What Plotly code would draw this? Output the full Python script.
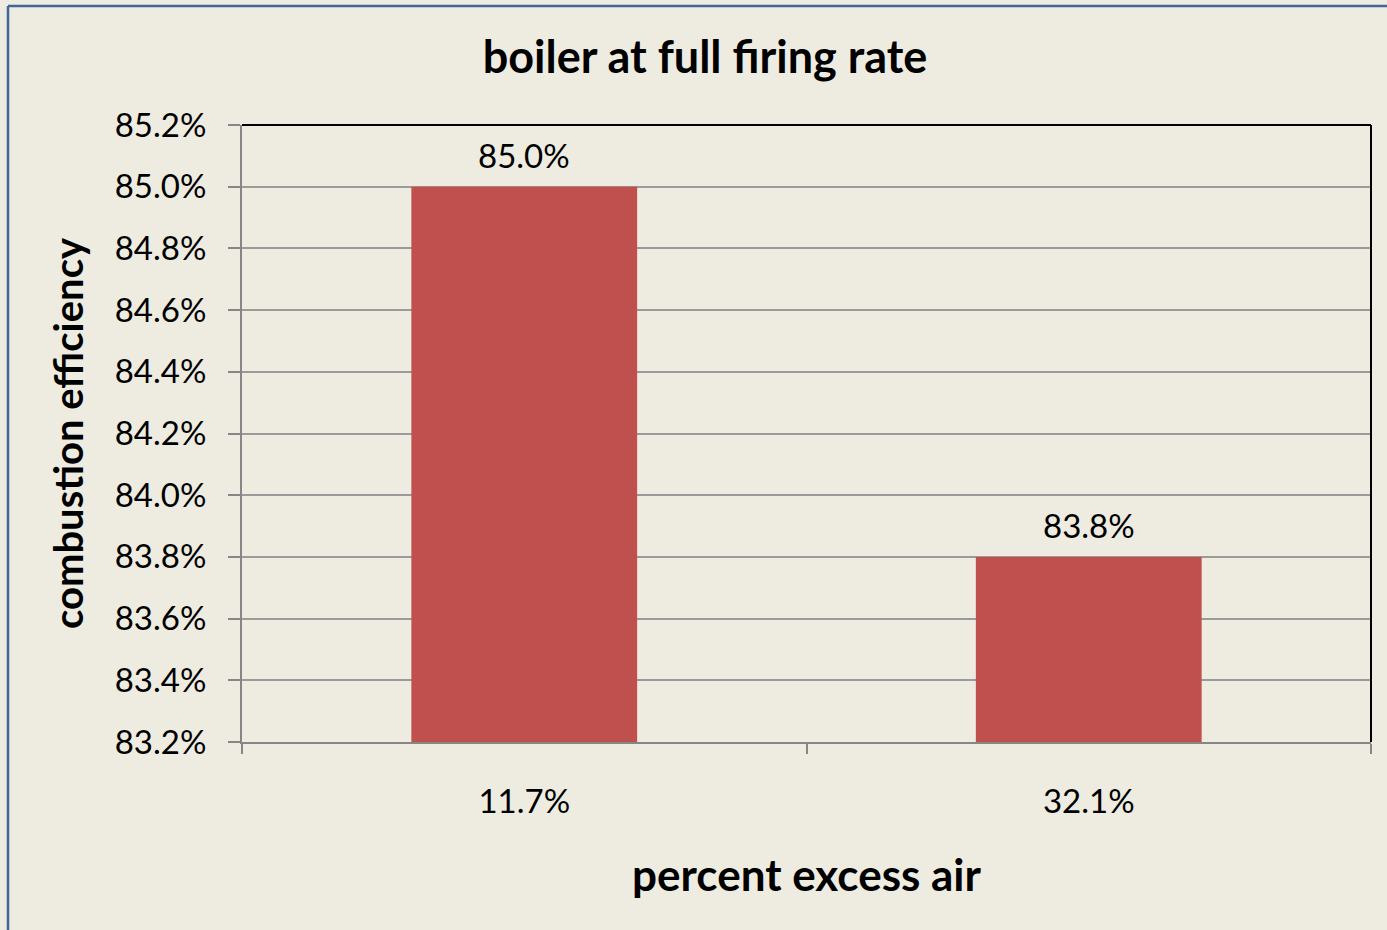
import plotly.graph_objects as go

categories = ["11.7%", "32.1%"]
efficiency = [0.850, 0.838]
y_ticks = [0.832, 0.834, 0.836, 0.838, 0.840, 0.842, 0.844, 0.846, 0.848, 0.850, 0.852]

W, H = 1387, 930
L, R, T, B = 242, 16, 125, 188
pw, ph = W - L - R, H - T - B

def px_x(p):
    return (p - L) / pw

def px_y(p):
    return (H - B - p) / ph

FONT = "Lato"
BG = "#EEECE1"

fig = go.Figure()
fig.add_trace(go.Bar(
    x=categories, y=efficiency,
    marker=dict(color="#C0504D", line=dict(width=0)),
    width=0.4,
    cliponaxis=False,
))

for c, v in zip(categories, efficiency):
    fig.add_annotation(x=c, y=v, xref="x", yref="y", text=f"{v*100:.1f}%",
                       showarrow=False, yanchor="middle", yshift=32,
                       font=dict(family=FONT, size=33, color="#000000"))

fig.update_layout(
    width=W, height=H,
    margin=dict(l=L, r=R, t=T, b=B, pad=0),
    paper_bgcolor=BG, plot_bgcolor=BG,
    showlegend=False,
    font=dict(family=FONT, color="#000000"),
    title=dict(text="<b>boiler at full firing rate</b>", x=(483 + 927) / 2 / W, xanchor="center",
               y=1 - 57 / H, yanchor="middle", font=dict(family=FONT, size=45, color="#000000")),
    bargap=0.6,
)

fig.update_xaxes(
    type="category",
    showline=True, linecolor="#868686", linewidth=2,
    ticks="outside", ticklen=10, tickcolor="#868686", tickwidth=1.5,
    tickson="boundaries",
    ticklabelstandoff=29,
    tickfont=dict(family=FONT, size=33, color="#000000"),
    title=dict(text="<b>percent excess air</b>", font=dict(family=FONT, size=44, color="#000000"), standoff=42),
    showgrid=False,
)
fig.update_yaxes(
    range=[0.832, 0.852],
    tickvals=y_ticks, tickformat=".1%",
    showline=True, linecolor="#868686", linewidth=2,
    ticks="outside", ticklen=12, tickcolor="#868686", tickwidth=1.5,
    ticklabelstandoff=15,
    tickfont=dict(family=FONT, size=33, color="#000000"),
    showgrid=True, gridcolor="#9A9A9A", gridwidth=1.5,
    zeroline=False,
    title=dict(text="<b>combustion efficiency</b>", font=dict(family=FONT, size=40, color="#000000"), standoff=19),
)

# plot-area top and right border (black)
fig.add_shape(type="line", xref="paper", yref="paper", x0=0, x1=1, y0=1, y1=1,
              line=dict(color="#000000", width=2))
fig.add_shape(type="line", xref="paper", yref="paper", x0=1, x1=1, y0=0, y1=1,
              line=dict(color="#000000", width=2))
# outer chart border (blue, top and left)
fig.add_shape(type="line", xref="paper", yref="paper", x0=px_x(8), x1=px_x(W + 5), y0=px_y(6), y1=px_y(6),
              line=dict(color="#41669A", width=2.5))
fig.add_shape(type="line", xref="paper", yref="paper", x0=px_x(8), x1=px_x(8), y0=px_y(6), y1=px_y(H + 5),
              line=dict(color="#41669A", width=2.5))

fig.write_html("out.html", config={"displayModeBar": False},
               post_script="document.body.style.margin='0';document.body.style.overflow='hidden';")
